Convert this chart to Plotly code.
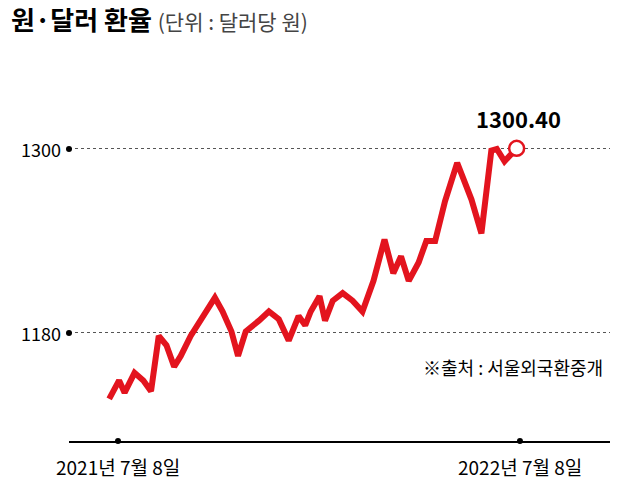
import pandas as pd
import plotly.graph_objects as go

# days after 2021-07-08 and won per dollar
days = [-8, 1, 6, 15, 23, 30, 37, 44, 51, 57, 66, 75, 88, 95, 103, 109, 116, 128, 137, 146,
        155, 164, 170, 175, 183, 188, 195, 204, 213, 222, 232, 242, 250, 257, 264, 273, 280,
        288, 297, 308, 321, 330, 339, 344, 351, 362]
rate = [1137, 1149, 1141, 1154, 1149, 1142, 1178, 1172, 1158, 1165, 1178, 1189, 1203, 1194,
        1181, 1165, 1181, 1188, 1194, 1189, 1175, 1191, 1185, 1194, 1204, 1188, 1201, 1206,
        1201, 1194, 1214, 1241, 1219, 1230, 1214, 1226, 1240, 1240, 1266, 1291, 1267, 1245,
        1299, 1300, 1292, 1300.4]
ytick_vals = [1180, 1300]
xtick_days = [0, 365]
xtick_text = ["2021년 7월 8일", "2022년 7월 8일"]

base = pd.Timestamp("2021-07-08")
dates = [base + pd.Timedelta(days=d) for d in days]
x_lo = base + pd.Timedelta(days=-44.5)
x_hi = base + pd.Timedelta(days=449.5)
y_lo, y_hi = 1109.5, 1357.4
RED = "#e3141e"
FONT = "Noto Sans CJK KR"

fig = go.Figure()
fig.add_trace(go.Scatter(x=dates, y=rate, mode="lines",
                         line=dict(color=RED, width=6), hoverinfo="skip"))
fig.add_trace(go.Scatter(x=[dates[-1]], y=[rate[-1]], mode="markers",
                         marker=dict(size=15, color="white", line=dict(color=RED, width=2.5))))
# dots at gridline starts and x ticks
fig.add_trace(go.Scatter(x=[x_lo, x_lo], y=ytick_vals, mode="markers", cliponaxis=False,
                         marker=dict(size=6, color="black")))
fig.add_trace(go.Scatter(x=[base + pd.Timedelta(days=d) for d in xtick_days], y=[y_lo, y_lo],
                         mode="markers", cliponaxis=False, marker=dict(size=6, color="black")))

ann = [
    dict(x=-0.11, y=1.0, xref="paper", yref="paper", xanchor="left", yanchor="bottom",
         yshift=22, showarrow=False, align="left",
         text="<b>원·달러 환율</b> <span style='font-size:21px;color:#444'>(단위 : 달러당 원)</span>",
         font=dict(size=26, color="black", family=FONT)),
    dict(x=dates[-1], y=rate[-1], text="<b>1300.40</b>", showarrow=False, yshift=30, xshift=2,
         font=dict(size=22, color="black", family=FONT)),
    dict(x=0.985, y=1158, xref="paper", xanchor="right", text="※출처 : 서울외국환중개",
         showarrow=False, font=dict(size=18, color="black", family=FONT)),
]
for v in ytick_vals:
    ann.append(dict(x=0, y=v, xref="paper", xanchor="right", xshift=-6, text=str(v),
                    showarrow=False, font=dict(size=18, color="black", family=FONT)))
for d, t in zip(xtick_days, xtick_text):
    ann.append(dict(x=base + pd.Timedelta(days=d), y=0, yref="paper", yanchor="top", yshift=-10,
                    text=t, showarrow=False, font=dict(size=19, color="black", family=FONT)))

fig.update_layout(
    width=618, height=491, margin=dict(l=61, r=13, t=53, b=58),
    plot_bgcolor="white", paper_bgcolor="white", showlegend=False,
    xaxis=dict(range=[x_lo, x_hi], showgrid=False, showticklabels=False, zeroline=False,
               showline=True, linecolor="black", linewidth=1.5, ticks=""),
    yaxis=dict(range=[y_lo, y_hi], tickvals=ytick_vals, showticklabels=False, zeroline=False,
               showgrid=True, gridcolor="#555", griddash="dot", gridwidth=1),
    annotations=ann,
)
fig.write_html("out.html")
